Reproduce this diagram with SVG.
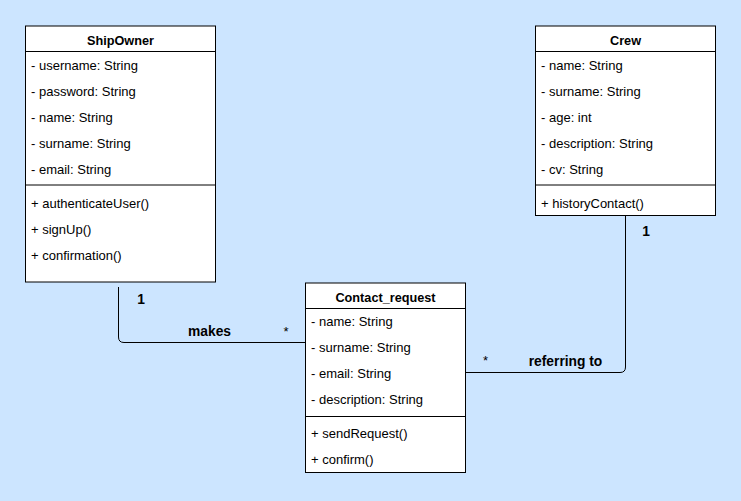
<svg xmlns="http://www.w3.org/2000/svg" width="741" height="501" viewBox="0 0 741 501">
<style>
.box{fill:#ffffff;stroke:#000000;stroke-width:1}
.sep{stroke:#000000;stroke-width:1}
.t{font-family:"Liberation Sans",Arial,sans-serif;font-size:13px;fill:#000000}
.title{font-family:"Liberation Sans",Arial,sans-serif;font-size:12.7px;font-weight:bold;fill:#000000;text-anchor:middle}
.lbl{font-family:"Liberation Sans",Arial,sans-serif;font-size:13.8px;font-weight:bold;fill:#000000}
.edge{fill:none;stroke:#000000;stroke-width:1}
</style>
<rect x="0" y="0" width="741" height="501" fill="#cce5ff"/>
<g id="connectors">
<path class="edge" d="M118.5 287 L118.5 337 Q118.5 342.5 124 342.5 L305 342.5"/>
<path class="edge" d="M625.5 216 L625.5 367 Q625.5 372.5 620 372.5 L465 372.5"/>
<text class="lbl" x="141" y="303.5" text-anchor="middle">1</text>
<text class="lbl" x="209.5" y="335.5" text-anchor="middle">makes</text>
<text class="t" x="286" y="335.5" text-anchor="middle" font-size="14">*</text>
<text class="lbl" x="646" y="236" text-anchor="middle">1</text>
<text class="t" x="485.5" y="365" text-anchor="middle" font-size="14">*</text>
<text class="lbl" x="565.5" y="366" text-anchor="middle">referring to</text>
</g>
<g id="ShipOwner">
<rect class="box" x="25.5" y="26" width="190" height="256"/>
<line class="sep" x1="25.5" y1="51.5" x2="215.5" y2="51.5"/>
<line class="sep" x1="25.5" y1="185" x2="215.5" y2="185"/>
<text class="title" x="120.5" y="44.5">ShipOwner</text>
<text class="t" x="31" y="70">- username: String</text>
<text class="t" x="31" y="96">- password: String</text>
<text class="t" x="31" y="122">- name: String</text>
<text class="t" x="31" y="148">- surname: String</text>
<text class="t" x="31" y="174">- email: String</text>
<text class="t" x="31" y="208">+ authenticateUser()</text>
<text class="t" x="31" y="234">+ signUp()</text>
<text class="t" x="31" y="260">+ confirmation()</text>
</g>
<g id="Crew">
<rect class="box" x="535.5" y="26" width="180" height="189.5"/>
<line class="sep" x1="535.5" y1="51.5" x2="715.5" y2="51.5"/>
<line class="sep" x1="535.5" y1="185" x2="715.5" y2="185"/>
<text class="title" x="625.5" y="44.5">Crew</text>
<text class="t" x="541" y="70">- name: String</text>
<text class="t" x="541" y="96">- surname: String</text>
<text class="t" x="541" y="122">- age: int</text>
<text class="t" x="541" y="148">- description: String</text>
<text class="t" x="541" y="174">- cv: String</text>
<text class="t" x="541" y="208">+ historyContact()</text>
</g>
<g id="Contact_request">
<rect class="box" x="305.5" y="283" width="160" height="189.5"/>
<line class="sep" x1="305.5" y1="308.5" x2="465.5" y2="308.5"/>
<line class="sep" x1="305.5" y1="416.5" x2="465.5" y2="416.5"/>
<text class="title" x="385.5" y="301.5">Contact_request</text>
<text class="t" x="311" y="326">- name: String</text>
<text class="t" x="311" y="352">- surname: String</text>
<text class="t" x="311" y="378">- email: String</text>
<text class="t" x="311" y="404">- description: String</text>
<text class="t" x="311" y="438">+ sendRequest()</text>
<text class="t" x="311" y="464">+ confirm()</text>
</g>
</svg>
